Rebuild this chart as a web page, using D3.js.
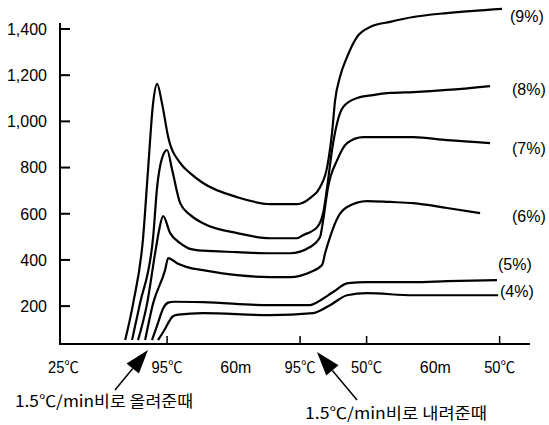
<!DOCTYPE html>
<html><head><meta charset="utf-8">
<script src="https://cdn.jsdelivr.net/npm/d3@7"></script>
<style>
html,body{margin:0;padding:0;background:#fff;}
svg{display:block;}
text{font-family:"Liberation Sans",Arial,"Noto Sans CJK KR",sans-serif;fill:#000;}
.kr{font-family:"Noto Sans CJK KR","Liberation Sans",sans-serif;}
</style>
</head><body>
<svg id="chart" width="549" height="425"></svg>
<script>
// ---- data (time in minutes from reaching 95℃, value on y) ----
const yTicks = [200, 400, 600, 800, 1000, 1200, 1400];
const stageLabels = ["25℃", "95℃", "60m", "95℃", "50℃", "60m", "50℃"];
const stageTimes  = [-46.7, 0, 31, 60, 90, 121, 150];
const stageTickTimes = [0, 60, 90, 150];
const seriesNames = ["(9%)", "(8%)", "(7%)", "(6%)", "(5%)", "(4%)"];

const s9 = [[-18.9,53],[-15.3,212],[-10.8,498],[-8.6,789],[-6.3,1079],[-4.5,1162],[-2.3,1079],[0.5,932],[5.9,820],[10.4,776],[16.2,733],[31.6,672],[46.5,642],[58.6,642],[64.5,668],[69,715],[72.2,802],[74.4,950],[75.8,1092],[78,1193],[81.2,1279],[85.7,1366],[91.6,1409],[100.6,1431],[111,1452],[126.3,1469],[151.1,1487]];
const s8 = [[-15.8,53],[-12.2,212],[-6.3,498],[-4.5,715],[-2.3,840],[0,876],[2.3,789],[5.9,646],[10.4,595],[16.2,559],[31.6,516],[46.5,494],[58.6,494],[61.3,507],[67.7,542],[70.4,603],[72.2,715],[74.4,876],[76.7,993],[79.4,1062],[85.7,1101],[92.9,1114],[100.6,1123],[111,1127],[126.3,1136],[145.7,1153]];
const s7 = [[-13.1,53],[-9,212],[-5.4,429],[-3.6,529],[-1.8,590],[1.4,516],[5.9,473],[10.4,448],[16.2,440],[31.6,434],[46.5,429],[55.5,429],[64.5,456],[69,499],[70.4,572],[72.6,715],[76.7,832],[81.2,906],[88.4,932],[100.6,932],[111,932],[126.3,919],[145.7,906]];
const s6 = [[-9.9,53],[-6.3,212],[-0.9,356],[0.5,408],[4.5,386],[9,369],[16.2,356],[31.6,334],[46.5,326],[55.5,326],[64.5,347],[69.9,378],[71.3,430],[73.5,499],[77.1,586],[81.2,629],[90.2,655],[100.6,651],[111,646],[126.3,625],[141.2,603]];
const s5 = [[-6.8,53],[-4,130],[-1.8,190],[0.5,215],[3,219],[16.2,217],[46.5,204],[64.5,204],[67.7,217],[74.9,261],[81.6,300],[90.2,304],[111,304],[126.3,308],[148.8,313]];
const s4 = [[-4.1,53],[-1,100],[1,135],[2.5,155],[5,163],[16.2,170],[46.5,161],[65.9,170],[73.5,204],[81.2,247],[90.2,256],[111,247],[126.3,247],[149.3,247]];
const allSeries = [s9, s8, s7, s6, s5, s4];

// ---- layout ----
const svg = d3.select("#chart");
const x = d3.scaleLinear().domain([-48.3, 163.7]).range([60, 530]);
const y = d3.scaleLinear().domain([36, 1400]).range([344, 29]);

// axes lines
svg.append("line").attr("x1", x(-48.3) - 1).attr("x2", x(163.7)).attr("y1", y(36)).attr("y2", y(36))
  .attr("stroke", "#000").attr("stroke-width", 2);
svg.append("line").attr("x1", x(-48.3)).attr("x2", x(-48.3)).attr("y1", y(36) + 1).attr("y2", y(1400) - 6)
  .attr("stroke", "#000").attr("stroke-width", 2);

// y ticks (inward) and labels
svg.append("g").selectAll("line").data(yTicks).join("line")
  .attr("x1", x(-48.3)).attr("x2", x(-48.3) + 10)
  .attr("y1", d => y(d)).attr("y2", d => y(d))
  .attr("stroke", "#000").attr("stroke-width", 2);
svg.append("g").selectAll("text").data(yTicks).join("text")
  .attr("x", 47).attr("y", d => y(d)).attr("dy", "0.36em")
  .attr("text-anchor", "end").attr("font-size", 16)
  .text(d => d3.format(",")(d));

// x ticks (upward)
svg.append("g").selectAll("line").data(stageTickTimes).join("line")
  .attr("x1", d => x(d)).attr("x2", d => x(d)).attr("y1", y(36)).attr("y2", y(36) - 8)
  .attr("stroke", "#000").attr("stroke-width", 1.5);

// x labels
svg.append("g").selectAll("text").data(stageLabels).join("text")
  .attr("x", (d, i) => x(stageTimes[i])).attr("y", 373)
  .attr("text-anchor", "middle").attr("font-size", 16)
  .attr("textLength", 31).attr("lengthAdjust", "spacingAndGlyphs")
  .text(d => d);

// curves
const line = d3.line().x(d => x(d[0])).y(d => y(d[1])).curve(d3.curveMonotoneX);
svg.append("g").selectAll("path").data(allSeries).join("path")
  .attr("d", line).attr("fill", "none").attr("stroke", "#000").attr("stroke-width", 2.2)
  .attr("stroke-linejoin", "round");

// series labels
const labelPos = [[510, 16], [512, 89], [512, 148], [512, 216], [498, 264], [500, 291]];
svg.append("g").selectAll("text").data(seriesNames).join("text")
  .attr("x", (d, i) => labelPos[i][0]).attr("y", (d, i) => labelPos[i][1]).attr("dy", "0.36em")
  .attr("font-size", 16).text(d => d);

// arrows
function arrow(x1, y1, x2, y2) {
  const ang = Math.atan2(y2 - y1, x2 - x1);
  const L = 24, W = 8;
  const bx = x2 - L * Math.cos(ang), by = y2 - L * Math.sin(ang);
  svg.append("line").attr("x1", x1).attr("y1", y1).attr("x2", bx).attr("y2", by)
    .attr("stroke", "#000").attr("stroke-width", 1.5);
  const px = -Math.sin(ang) * W, py = Math.cos(ang) * W;
  svg.append("path").attr("d", `M${x2},${y2}L${bx + px},${by + py}L${bx - px},${by - py}Z`).attr("fill", "#000");
}
arrow(115, 390, 148, 350);
arrow(357, 400, 317, 352);

svg.append("text").attr("class", "kr").attr("x", 15).attr("y", 401).attr("dy", "0.36em")
  .attr("font-size", 16).attr("textLength", 178).attr("lengthAdjust", "spacingAndGlyphs")
  .text("1.5℃/min비로 올려준때");
svg.append("text").attr("class", "kr").attr("x", 305).attr("y", 413).attr("dy", "0.36em")
  .attr("font-size", 16).attr("textLength", 182).attr("lengthAdjust", "spacingAndGlyphs")
  .text("1.5℃/min비로 내려준때");
</script>
</body></html>
